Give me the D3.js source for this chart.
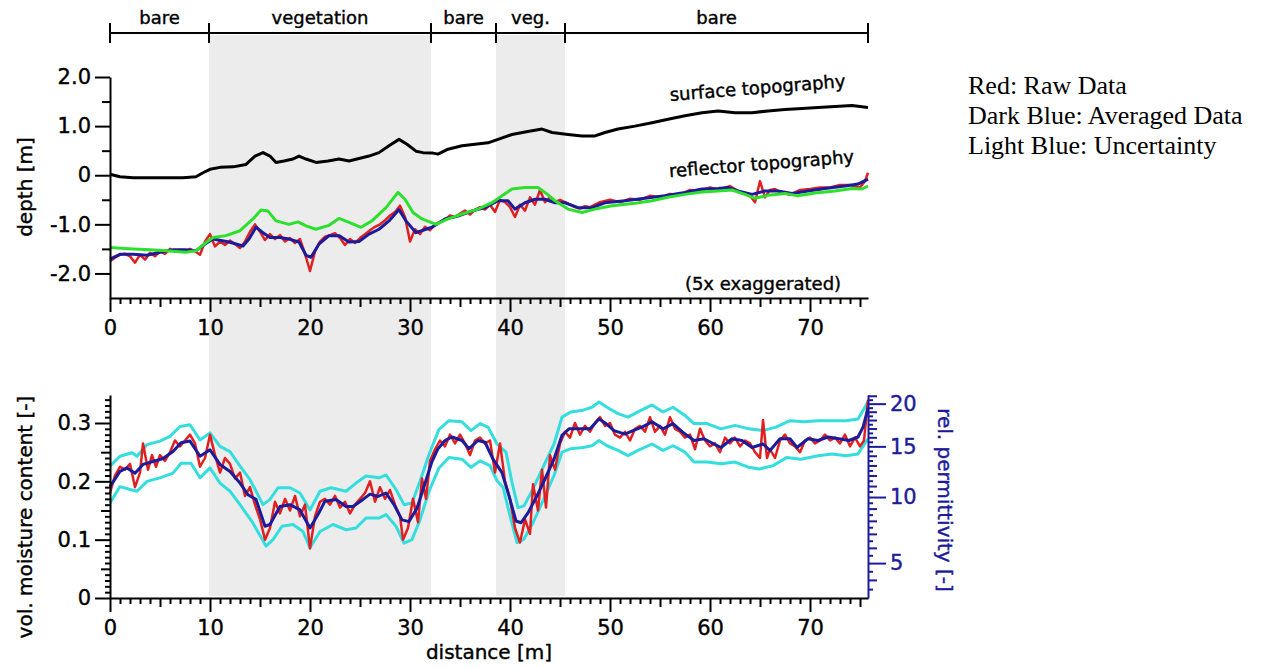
<!DOCTYPE html>
<html>
<head>
<meta charset="utf-8">
<script src="https://cdn.jsdelivr.net/npm/d3@7"></script>
<style>
  body { margin: 0; background: #fff; }
  text { font-family: "DejaVu Sans", sans-serif; stroke: #000; stroke-width: 0.4px; }
  text.blue { stroke: #1c1c9a; }
  text.legend { stroke: none; }
</style>
</head>
<body>
<svg id="chart" width="1265" height="668"></svg>
<script>
// ground cover zones along the profile (m)
var zoneEdges = [0, 9.9, 32.1, 38.6, 45.5, 75.8];
var zoneNames = ["bare", "vegetation", "bare", "veg.", "bare"];
var vegZones = [[9.9, 32.1], [38.6, 45.5]];

// top panel: [distance m, depth m]
var surface = [[0,0.02],[1,-0.03],[2.3,-0.05],[4,-0.05],[5.6,-0.05],[7.3,-0.05],[8.6,-0.03],[9.3,0.05],[10,0.12],[11,0.16],[12.3,0.17],[13.6,0.22],[14.5,0.39],[15.3,0.46],[16,0.39],[16.6,0.26],[17.4,0.29],[18.3,0.33],[18.9,0.39],[19.6,0.33],[20.6,0.26],[21.8,0.29],[22.9,0.33],[23.9,0.29],[24.9,0.34],[25.9,0.39],[26.9,0.46],[27.9,0.6],[28.9,0.73],[29.7,0.63],[30.6,0.49],[31.3,0.46],[32.3,0.45],[32.8,0.43],[33.8,0.53],[35.2,0.6],[36.5,0.63],[37.8,0.66],[38.8,0.73],[40.2,0.83],[41.5,0.88],[43.2,0.94],[44.2,0.87],[45.8,0.83],[47.2,0.8],[48.5,0.8],[49.5,0.87],[50.8,0.94],[52.5,1.0],[54.2,1.07],[55.8,1.14],[57.5,1.21],[59.2,1.27],[60.8,1.31],[62.5,1.27],[64.2,1.27],[65.8,1.31],[67.5,1.34],[69.2,1.36],[70.8,1.38],[72.5,1.40],[74.2,1.42],[75.8,1.38]];

var reflectorRaw = [[0,-1.75],[0.5,-1.68],[1,-1.62],[1.5,-1.6],[2,-1.65],[2.5,-1.78],[3,-1.62],[3.5,-1.72],[4,-1.58],[4.5,-1.65],[5,-1.55],[5.5,-1.6],[6,-1.5],[6.5,-1.55],[7,-1.52],[7.5,-1.53],[8,-1.5],[8.5,-1.55],[9,-1.62],[9.5,-1.35],[10,-1.2],[10.5,-1.45],[11,-1.35],[11.5,-1.42],[12,-1.33],[12.5,-1.4],[13,-1.48],[13.5,-1.35],[14,-1.15],[14.5,-1.0],[15,-1.15],[15.5,-1.32],[16,-1.2],[16.5,-1.3],[17,-1.22],[17.5,-1.35],[18,-1.28],[18.5,-1.38],[19,-1.3],[19.5,-1.6],[20,-1.95],[20.5,-1.55],[21,-1.35],[21.5,-1.25],[22,-1.22],[22.5,-1.18],[23,-1.28],[23.5,-1.42],[24,-1.3],[24.5,-1.38],[25,-1.28],[25.5,-1.2],[26,-1.12],[26.5,-1.05],[27,-1.0],[27.5,-0.92],[28,-0.82],[28.5,-0.75],[29,-0.62],[29.5,-0.85],[30,-1.35],[30.5,-1.1],[31,-1.2],[31.5,-1.05],[32,-1.12],[32.5,-1.0],[33,-0.95],[33.5,-0.9],[34,-0.82],[34.5,-0.85],[35,-0.78],[35.5,-0.72],[36,-0.8],[36.5,-0.7],[37,-0.65],[37.5,-0.7],[38,-0.6],[38.5,-0.75],[39,-0.5],[39.5,-0.55],[40,-0.65],[40.5,-0.85],[41,-0.6],[41.5,-0.72],[42,-0.45],[42.5,-0.6],[43,-0.3],[43.5,-0.55],[44,-0.45],[44.5,-0.55],[45,-0.5],[45.5,-0.55],[46,-0.6],[46.5,-0.65],[47,-0.68],[47.5,-0.63],[48,-0.65],[48.5,-0.6],[49,-0.55],[50,-0.5],[51,-0.55],[52,-0.48],[53,-0.5],[54,-0.42],[55,-0.45],[56,-0.38],[57,-0.4],[58,-0.3],[59,-0.32],[60,-0.25],[61,-0.3],[62,-0.22],[63,-0.35],[64,-0.42],[64.5,-0.55],[65,-0.12],[65.5,-0.45],[66,-0.3],[66.5,-0.28],[67,-0.35],[68,-0.4],[69,-0.3],[70,-0.28],[71,-0.25],[72,-0.25],[73,-0.2],[74,-0.2],[75,-0.25],[75.5,-0.12],[75.8,0.05]];

var reflectorAvg = [[0,-1.71],[1,-1.61],[2.3,-1.61],[3.7,-1.63],[5,-1.57],[6.3,-1.52],[7.6,-1.52],[8.6,-1.54],[9.5,-1.40],[10.3,-1.30],[11.9,-1.36],[13.3,-1.44],[13.9,-1.30],[14.6,-1.06],[15.3,-1.17],[16,-1.27],[17,-1.27],[17.9,-1.30],[18.9,-1.36],[19.6,-1.63],[20.1,-1.67],[20.9,-1.40],[21.9,-1.23],[22.9,-1.23],[23.9,-1.36],[24.9,-1.35],[25.9,-1.20],[26.9,-1.10],[27.9,-0.93],[28.9,-0.70],[29.6,-0.93],[30.6,-1.17],[31.6,-1.10],[32.2,-1.06],[33.5,-0.89],[34.8,-0.83],[36.2,-0.73],[37.5,-0.66],[38.8,-0.52],[39.8,-0.52],[40.5,-0.69],[41.5,-0.56],[42.5,-0.49],[43.5,-0.49],[44.5,-0.56],[45.5,-0.56],[46.8,-0.66],[48.2,-0.66],[49.5,-0.56],[51.5,-0.52],[53.5,-0.47],[55.5,-0.42],[57.5,-0.35],[59.2,-0.28],[60.8,-0.27],[61.8,-0.25],[62.8,-0.32],[64.2,-0.39],[65.5,-0.32],[66.8,-0.32],[68.2,-0.37],[69.8,-0.32],[71.5,-0.27],[73.5,-0.22],[74.8,-0.18],[75.8,-0.08]];

var reflectorAlt = [[0,-1.47],[2.3,-1.5],[4,-1.52],[5.6,-1.54],[7.6,-1.57],[8.6,-1.54],[9.6,-1.37],[10.3,-1.27],[11.6,-1.23],[13,-1.13],[14.3,-0.89],[15.1,-0.71],[15.8,-0.73],[16.6,-0.93],[17.9,-1.0],[18.8,-0.95],[19.6,-1.03],[20.6,-1.1],[21.9,-1.02],[22.9,-0.88],[23.9,-0.96],[25.1,-1.06],[26.2,-0.93],[27.6,-0.66],[28.8,-0.35],[29.5,-0.49],[30.3,-0.76],[31.2,-0.89],[32.6,-1.0],[33.8,-0.89],[35.2,-0.79],[36.8,-0.69],[38.2,-0.56],[39.2,-0.42],[40.2,-0.28],[41.5,-0.25],[42.8,-0.25],[43.5,-0.35],[44.5,-0.52],[45.8,-0.69],[47.2,-0.76],[48.5,-0.69],[50.2,-0.62],[52.5,-0.57],[54.2,-0.52],[55.8,-0.45],[57.5,-0.39],[59.2,-0.34],[60.8,-0.32],[62.2,-0.30],[63.5,-0.39],[64.5,-0.47],[65.8,-0.41],[67.5,-0.37],[68.8,-0.42],[70.5,-0.36],[72.5,-0.32],[74.2,-0.27],[75.2,-0.28],[75.8,-0.22]];

// bottom panel: [distance m, vol. moisture content]
var moistRaw = [[0,0.18],[0.5,0.21],[1,0.225],[1.5,0.22],[2,0.23],[2.5,0.19],[3,0.215],[3.3,0.265],[3.8,0.22],[4.2,0.245],[4.6,0.225],[5,0.245],[5.5,0.235],[6,0.25],[6.5,0.27],[7,0.26],[7.5,0.27],[8,0.28],[8.5,0.265],[9,0.225],[9.5,0.24],[10,0.28],[10.5,0.245],[11,0.215],[11.5,0.24],[12,0.23],[12.5,0.205],[13,0.215],[13.5,0.175],[14,0.19],[14.5,0.16],[15,0.135],[15.5,0.10],[16,0.12],[16.5,0.165],[17,0.145],[17.5,0.17],[18,0.15],[18.5,0.175],[19,0.14],[19.5,0.16],[20,0.085],[20.5,0.14],[21,0.165],[21.5,0.17],[22,0.16],[22.5,0.175],[23,0.155],[23.5,0.165],[24,0.145],[24.5,0.16],[25,0.17],[25.5,0.18],[26,0.2],[26.5,0.165],[27,0.19],[27.5,0.17],[28,0.185],[28.5,0.16],[29,0.14],[29.3,0.10],[29.8,0.12],[30.3,0.17],[30.8,0.13],[31.2,0.205],[31.6,0.17],[32,0.235],[32.5,0.255],[33,0.27],[33.5,0.26],[34,0.28],[34.5,0.265],[35,0.28],[35.5,0.265],[36,0.245],[36.5,0.27],[37,0.275],[37.5,0.265],[38,0.27],[38.5,0.215],[39,0.265],[39.5,0.2],[40,0.17],[40.5,0.12],[41,0.095],[41.5,0.135],[42,0.11],[42.3,0.195],[42.8,0.15],[43.2,0.22],[43.6,0.155],[44,0.245],[44.5,0.22],[45,0.265],[45.5,0.285],[46,0.275],[46.5,0.3],[47,0.28],[47.5,0.295],[48,0.285],[48.5,0.3],[49,0.31],[49.5,0.295],[50,0.3],[50.5,0.28],[51,0.275],[51.5,0.285],[52,0.27],[52.5,0.29],[53,0.295],[53.5,0.285],[54,0.31],[54.5,0.285],[55,0.295],[55.5,0.28],[56,0.31],[56.5,0.29],[57,0.285],[57.5,0.275],[58,0.28],[58.5,0.255],[59,0.29],[59.5,0.27],[60,0.26],[60.5,0.265],[61,0.25],[61.5,0.275],[62,0.265],[62.5,0.275],[63,0.26],[63.5,0.27],[64,0.265],[64.5,0.25],[65,0.24],[65.3,0.305],[65.7,0.24],[66,0.255],[66.5,0.24],[67,0.27],[67.5,0.28],[68,0.265],[68.5,0.26],[69,0.25],[69.5,0.27],[70,0.275],[70.5,0.265],[71,0.27],[71.5,0.28],[72,0.27],[72.5,0.275],[73,0.265],[73.5,0.28],[74,0.26],[74.5,0.275],[75,0.26],[75.4,0.27],[75.8,0.34]];

var moistAvg = [[0,0.191],[1,0.217],[1.7,0.223],[2.5,0.214],[3.3,0.229],[4.3,0.234],[5.3,0.239],[6.3,0.251],[7.1,0.266],[8,0.269],[9,0.243],[10,0.254],[11,0.229],[12,0.217],[13,0.197],[13.8,0.177],[14.6,0.169],[15.5,0.123],[16,0.126],[17,0.157],[18,0.160],[19,0.151],[20,0.120],[20.8,0.143],[21.5,0.166],[22.6,0.169],[23.6,0.157],[24.3,0.157],[25.3,0.169],[26,0.178],[26.8,0.174],[27.6,0.180],[28.4,0.160],[29.2,0.134],[29.9,0.131],[30.7,0.154],[31.4,0.191],[32.2,0.234],[32.8,0.256],[33.5,0.270],[34.2,0.276],[35.2,0.270],[35.9,0.256],[36.8,0.270],[37.5,0.267],[38.3,0.238],[39.2,0.215],[39.9,0.175],[40.6,0.132],[41.1,0.129],[41.8,0.146],[42.7,0.175],[43.5,0.204],[44.4,0.238],[45.2,0.279],[45.9,0.290],[47,0.290],[48,0.290],[48.9,0.307],[49.6,0.299],[50.4,0.287],[51.5,0.281],[52.3,0.287],[53.2,0.293],[54.2,0.302],[55.3,0.290],[56.3,0.299],[57.3,0.284],[58.4,0.270],[59.4,0.273],[60.4,0.264],[61.1,0.258],[62.2,0.273],[63.2,0.270],[64.2,0.258],[65.3,0.264],[66,0.253],[67,0.273],[68,0.273],[68.7,0.258],[69.8,0.273],[70.8,0.270],[71.8,0.276],[72.9,0.273],[73.9,0.270],[74.8,0.276],[75.3,0.293],[75.8,0.325]];

var moistUpper = [[0,0.226],[1,0.243],[2.2,0.249],[2.7,0.243],[3.7,0.263],[5,0.269],[6,0.277],[7,0.294],[8,0.297],[9,0.271],[10,0.283],[11,0.260],[12,0.251],[13,0.226],[14,0.203],[15.3,0.160],[16,0.169],[16.8,0.189],[18,0.189],[19,0.180],[20,0.151],[21,0.183],[22.1,0.189],[23.6,0.183],[24.6,0.197],[25.6,0.209],[26.9,0.206],[27.6,0.211],[28.6,0.186],[29.4,0.160],[30.2,0.163],[31,0.200],[31.9,0.246],[32.9,0.289],[33.9,0.304],[35.2,0.302],[36.1,0.287],[37,0.299],[37.8,0.293],[38.7,0.264],[39.6,0.250],[40.2,0.198],[40.8,0.155],[41.4,0.158],[42.3,0.187],[43.3,0.224],[44.4,0.264],[45.2,0.310],[46.1,0.319],[47.3,0.322],[48.2,0.327],[48.9,0.336],[49.7,0.327],[50.8,0.316],[51.8,0.310],[52.8,0.319],[54.2,0.331],[55.3,0.319],[56.3,0.327],[57.5,0.313],[58.4,0.299],[59.7,0.299],[61.1,0.290],[62.5,0.296],[63.9,0.290],[65.3,0.287],[66.6,0.293],[68,0.304],[69.4,0.302],[70.8,0.304],[72.2,0.304],[73.6,0.304],[74.8,0.307],[75.8,0.336]];

var moistLower = [[0,0.163],[1,0.191],[2,0.186],[2.7,0.183],[3.7,0.200],[5,0.206],[6.3,0.214],[7.1,0.231],[8.1,0.231],[9,0.206],[10,0.223],[11,0.197],[12,0.183],[13,0.160],[14.2,0.131],[15.6,0.089],[16.3,0.100],[17.2,0.123],[18.3,0.126],[19.3,0.114],[20,0.086],[21,0.114],[22.3,0.126],[23.6,0.117],[24.6,0.120],[25.6,0.137],[26.9,0.137],[27.6,0.143],[28.6,0.123],[29.4,0.094],[30.2,0.100],[31,0.134],[31.9,0.183],[32.9,0.223],[33.9,0.241],[35.2,0.238],[36.1,0.224],[37,0.235],[38,0.227],[38.7,0.201],[39.3,0.190],[40,0.141],[40.7,0.095],[41.4,0.101],[42.3,0.129],[43.3,0.167],[44.4,0.210],[45.2,0.250],[46.1,0.256],[47.3,0.258],[48.2,0.261],[48.9,0.270],[49.7,0.261],[50.8,0.253],[51.8,0.244],[52.8,0.253],[54.2,0.264],[55.3,0.253],[56.3,0.261],[57.5,0.250],[58.4,0.233],[59.7,0.233],[61.1,0.230],[62.5,0.233],[63.9,0.224],[64.9,0.221],[66.3,0.227],[67.7,0.241],[69.1,0.238],[70.8,0.244],[72.2,0.247],[73.6,0.244],[74.8,0.247],[75.8,0.273]];

// tick values
var distTicks = d3.range(0, 76, 1);
var depthTicks = [-2, -1.5, -1, -0.5, 0, 0.5, 1, 1.5, 2];
var moistTicks = d3.range(0, 35).map(function(i) { return i / 100; });
var permTicks = d3.range(7, 43).map(function(i) { return i / 2; });
var legendLines = ["Red: Raw Data", "Dark Blue: Averaged Data", "Light Blue: Uncertainty"];

var svg = d3.select('#chart');

var x = d3.scaleLinear().domain([0, 75.8]).range([110, 868]);
var yTop = d3.scaleLinear().domain([-2.5, 2.0]).range([298, 77]);
var yBot = d3.scaleLinear().domain([0, 0.348]).range([598, 395]);
var yPerm = d3.scalePow().exponent(0.5).domain([3.05, 21.1]).range([598, 395]);

var navy = "#1c1c9a";

// vegetation shading
svg.selectAll('rect.veg')
   .data(vegZones)
   .enter().append('rect')
   .attr('class', 'veg')
   .attr('x', function(d) { return x(d[0]); })
   .attr('width', function(d) { return x(d[1]) - x(d[0]); })
   .attr('y', 35)
   .attr('height', 561)
   .attr('fill', '#ececec');

// zone bar
var zone = svg.append('g');
zone.append('line')
    .attr('x1', x(0)).attr('x2', x(75.8))
    .attr('y1', 33).attr('y2', 33)
    .attr('stroke', '#000').attr('stroke-width', 2);
zone.selectAll('line.edge')
    .data(zoneEdges)
    .enter().append('line')
    .attr('class', 'edge')
    .attr('x1', function(d) { return x(d); })
    .attr('x2', function(d) { return x(d); })
    .attr('y1', 23).attr('y2', 43)
    .attr('stroke', '#000').attr('stroke-width', 2);
zone.selectAll('text')
    .data(zoneNames)
    .enter().append('text')
    .attr('x', function(d, i) { return (x(zoneEdges[i]) + x(zoneEdges[i + 1])) / 2; })
    .attr('y', 24)
    .attr('text-anchor', 'middle')
    .style('font-size', '18px')
    .text(function(d) { return d; });

// lines
var lineTop = d3.line().x(function(d) { return x(d[0]); }).y(function(d) { return yTop(d[1]); });
var lineBot = d3.line().x(function(d) { return x(d[0]); }).y(function(d) { return yBot(d[1]); });

function drawLine(data, gen, colour, w) {
	svg.append('path')
	   .datum(data)
	   .attr('d', gen)
	   .attr('fill', 'none')
	   .attr('stroke', colour)
	   .attr('stroke-width', w)
	   .attr('stroke-linejoin', 'round');
}

drawLine(surface, lineTop, '#000', 3);
drawLine(reflectorRaw, lineTop, '#e02020', 2.5);
drawLine(reflectorAvg, lineTop, navy, 3);
drawLine(reflectorAlt, lineTop, '#2ee02e', 3);

drawLine(moistUpper, lineBot, '#35dede', 3);
drawLine(moistLower, lineBot, '#35dede', 3);
drawLine(moistRaw, lineBot, '#e02020', 2.5);
drawLine(moistAvg, lineBot, navy, 3);

// axes
function styleAxis(g, colour) {
	g.select('.domain').attr('stroke', colour).attr('stroke-width', 2);
	g.selectAll('.tick line').attr('stroke', colour).attr('stroke-width', 2);
	g.selectAll('.tick text').attr('fill', colour).style('font-size', '21px').style('font-family', '"DejaVu Sans", sans-serif');
}

function xAxis(yPos) {
	var g = svg.append('g')
	   .attr('transform', 'translate(0,' + yPos + ')')
	   .call(d3.axisBottom(x).tickValues(distTicks).tickSizeOuter(0)
	       .tickFormat(function(d) { return d % 10 === 0 ? d : ''; }));
	g.selectAll('.tick line').attr('y2', function(d) { return d % 10 === 0 ? 14 : (d % 5 === 0 ? 9 : 6); });
	g.selectAll('.tick text').attr('y', 22);
	styleAxis(g, '#000');
}
xAxis(298);
xAxis(598);

var gDepth = svg.append('g')
   .attr('transform', 'translate(110,0)')
   .call(d3.axisLeft(yTop).tickValues(depthTicks).tickSizeOuter(0)
       .tickFormat(function(d) { return Number.isInteger(d) ? (d === 0 ? '0' : d.toFixed(1)) : ''; }));
gDepth.selectAll('.tick line').attr('x2', function(d) { return Number.isInteger(d) ? -15 : -8; });
gDepth.selectAll('.tick text').attr('x', -19);
styleAxis(gDepth, '#000');

var gMoist = svg.append('g')
   .attr('transform', 'translate(110,0)')
   .call(d3.axisLeft(yBot).tickValues(moistTicks).tickSizeOuter(0)
       .tickFormat(function(d) { var i = Math.round(d * 100); return i % 10 === 0 ? (i === 0 ? '0' : (i / 100).toFixed(1)) : ''; }));
gMoist.selectAll('.tick line').attr('x2', function(d) { var i = Math.round(d * 100); return i % 10 === 0 ? -15 : (i % 5 === 0 ? -9 : -5); });
gMoist.selectAll('.tick text').attr('x', -19);
styleAxis(gMoist, '#000');

var gPerm = svg.append('g')
   .attr('transform', 'translate(868,0)')
   .call(d3.axisRight(yPerm).tickValues(permTicks).tickSizeOuter(0)
       .tickFormat(function(d) { return d % 5 === 0 ? d : ''; }));
gPerm.selectAll('.tick line').attr('x2', function(d) { return d % 5 === 0 ? 18 : (Number.isInteger(d) ? 9 : 5); });
gPerm.selectAll('.tick text').attr('x', 22).attr('class', 'blue');
styleAxis(gPerm, navy);

// axis titles
svg.append('text')
   .attr('transform', 'translate(32,187) rotate(-90)')
   .attr('text-anchor', 'middle')
   .style('font-size', '20px')
   .text('depth [m]');
svg.append('text')
   .attr('transform', 'translate(32,517) rotate(-90)')
   .attr('text-anchor', 'middle')
   .style('font-size', '20px')
   .text('vol. moisture content [-]');
svg.append('text')
   .attr('class', 'blue')
   .attr('transform', 'translate(938,500) rotate(90)')
   .attr('text-anchor', 'middle')
   .attr('fill', navy)
   .style('font-size', '20px')
   .text('rel. permittivity [-]');
svg.append('text')
   .attr('x', 489).attr('y', 659)
   .attr('text-anchor', 'middle')
   .style('font-size', '20px')
   .text('distance [m]');

// annotations
svg.append('text')
   .attr('transform', 'translate(758,94) rotate(-4.5)')
   .attr('text-anchor', 'middle')
   .style('font-size', '18px')
   .text('surface topography');
svg.append('text')
   .attr('transform', 'translate(762,170) rotate(-4.5)')
   .attr('text-anchor', 'middle')
   .style('font-size', '18px')
   .text('reflector topography');
svg.append('text')
   .attr('x', 763).attr('y', 290)
   .attr('text-anchor', 'middle')
   .style('font-size', '18px')
   .text('(5x exaggerated)');

// legend text
svg.selectAll('text.legend')
   .data(legendLines)
   .enter().append('text')
   .attr('class', 'legend')
   .attr('x', 968)
   .attr('y', function(d, i) { return 94 + i * 30; })
   .style('font-family', '"Liberation Serif", "Times New Roman", serif')
   .style('font-size', '26px')
   .text(function(d) { return d; });
</script>
</body>
</html>
